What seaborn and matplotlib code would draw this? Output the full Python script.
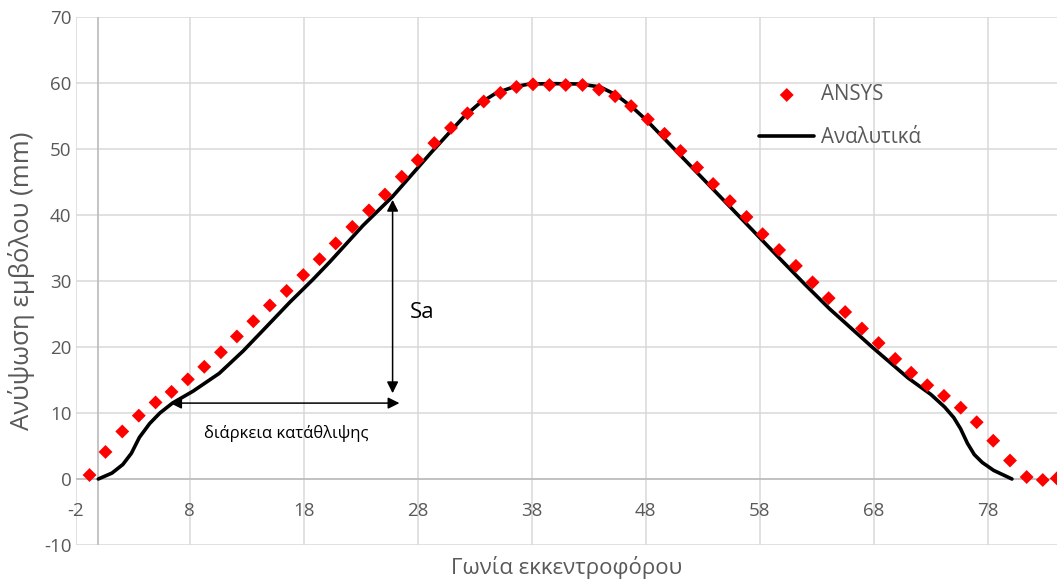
import matplotlib
matplotlib.use("Agg")
import matplotlib.pyplot as plt
import seaborn as sns
import pandas as pd
import numpy as np

# ANSYS data (angle, lift)
ansys_x = [-0.77, 0.63, 2.10, 3.55, 5.02, 6.42, 7.85, 9.29, 10.75, 12.15,
           13.59, 15.04, 16.51, 17.97, 19.40, 20.81, 22.27, 23.73, 25.13, 26.60,
           28.00, 29.46, 30.92, 32.36, 33.79, 35.25, 36.66, 38.11, 39.55, 40.98,
           42.45, 43.90, 45.31, 46.71, 48.18, 49.64, 51.04, 52.50, 53.90, 55.37,
           56.83, 58.24, 59.69, 61.16, 62.62, 64.03, 65.48, 66.95, 68.41, 69.87,
           71.27, 72.68, 74.14, 75.61, 77.01, 78.46, 79.93, 81.39, 82.80, 84.03]
ansys_y = [0.6, 4.1, 7.2, 9.6, 11.6, 13.2, 15.1, 17.0, 19.2, 21.6,
           23.9, 26.3, 28.5, 30.9, 33.3, 35.7, 38.2, 40.7, 43.1, 45.8,
           48.3, 50.9, 53.2, 55.4, 57.2, 58.5, 59.4, 59.8, 59.7, 59.7,
           59.7, 59.0, 58.0, 56.5, 54.5, 52.3, 49.7, 47.2, 44.7, 42.1,
           39.7, 37.1, 34.7, 32.3, 29.8, 27.4, 25.3, 22.8, 20.6, 18.2,
           16.1, 14.2, 12.6, 10.8, 8.6, 5.8, 2.8, 0.3, -0.15, 0.1]

# Analytical curve
anal_x = [0, 1.2, 2.15, 2.9, 3.6, 4.5, 5.4, 6.5, 8.3, 10.6, 12.7, 14.7, 16.8,
          18.8, 20.3, 23.2, 25.8, 29.2, 32.0, 33.4, 34.9, 36.4, 37.8, 40.0,
          42.2, 44.0, 45.4, 46.9, 48.1, 51.0, 53.9, 56.8, 59.8, 62.0, 64.1, 67.9,
          71.0, 73.0, 74.2, 75.0, 75.6, 76.2, 76.8, 77.5, 78.5, 80.1]
anal_y = [0, 0.9, 2.2, 3.9, 6.3, 8.4, 10.0, 11.5, 13.3, 16.0, 19.4, 23.0, 26.8,
          30.2, 32.9, 38.4, 42.8, 49.5, 54.8, 56.9, 58.5, 59.4, 59.85, 59.9,
          59.85, 59.4, 58.2, 56.2, 54.3, 49.1, 43.9, 38.7, 33.3, 29.4, 25.8, 19.9,
          15.3, 12.8, 10.9, 9.3, 7.6, 5.4, 3.7, 2.5, 1.3, 0.0]

x_ticks = [-2, 8, 18, 28, 38, 48, 58, 68, 78]
y_ticks = [-10, 0, 10, 20, 30, 40, 50, 60, 70]

series_names = ["ANSYS", "Αναλυτικά"]
x_title = "Γωνία εκκεντροφόρου"
y_title = "Ανύψωση εμβόλου (mm)"
sa_text = "Sa"
dur_text = "διάρκεια κατάθλιψης"

sns.set_style("white")
plt.rcParams['font.family'] = ['Open Sans', 'DejaVu Sans']
plt.rcParams['axes.unicode_minus'] = False

fig = plt.figure(figsize=(10.57, 5.80), dpi=100)
ax = fig.add_axes([75.5 / 1057, 1 - 545 / 580, 1 - 75.5 / 1057, 528 / 580])

grid_c = "#d9d9d9"
axis_c = "#bfbfbf"
text_c = "#595959"

for xv in x_ticks:
    ax.axvline(xv, color=grid_c, lw=1.1, zorder=0)
for yv in y_ticks:
    ax.axhline(yv, color=grid_c, lw=1.1, zorder=0)
ax.axhline(0, color=axis_c, lw=1.3, zorder=0.5)
ax.axvline(0, color=axis_c, lw=1.3, zorder=0.5)

df_a = pd.DataFrame({"x": ansys_x, "y": ansys_y})
df_l = pd.DataFrame({"x": anal_x, "y": anal_y})

sns.scatterplot(data=df_a, x="x", y="y", marker="D", color="#ff0000", s=50,
                edgecolor="none", ax=ax, label=series_names[0], zorder=3, clip_on=True)
sns.lineplot(data=df_l, x="x", y="y", sort=False, color="black", lw=2.6,
             ax=ax, label=series_names[1], zorder=2)

ax.set_xlim(-2, 84.05)
ax.set_ylim(-10, 70)
ax.set_xticks(x_ticks)
ax.set_yticks(y_ticks)
for s in ax.spines.values():
    s.set_visible(False)
ax.tick_params(axis="both", length=0, labelsize=13.5, colors=text_c)
ax.tick_params(axis="x", pad=-31)
ax.tick_params(axis="y", pad=3)
ax.set_xlabel(x_title, fontsize=16, color=text_c, labelpad=8)
ax.set_ylabel(y_title, fontsize=18.5, color=text_c, labelpad=6)

# annotations
ax.annotate("", xy=(25.8, 42.3), xytext=(25.8, 13.0),
            arrowprops=dict(arrowstyle="<|-|>", color="black", lw=1.1, mutation_scale=17,
                            shrinkA=0, shrinkB=0))
ax.annotate("", xy=(6.3, 11.5), xytext=(26.4, 11.5),
            arrowprops=dict(arrowstyle="<|-|>", color="black", lw=1.1, mutation_scale=17,
                            shrinkA=0, shrinkB=0))
ax.text(27.3, 25.2, sa_text, fontsize=16, color="black", ha="left", va="center")
ax.text(16.5, 6.9, dur_text, fontsize=12, color="black", ha="center", va="center")

leg = ax.legend(loc="upper left", bbox_to_anchor=(0.688, 0.888), frameon=False,
                fontsize=14.8, labelspacing=1.05, handlelength=2.7, handletextpad=0.3,
                borderaxespad=0)
for t in leg.get_texts():
    t.set_color(text_c)

fig.savefig("out.png", dpi=100)
